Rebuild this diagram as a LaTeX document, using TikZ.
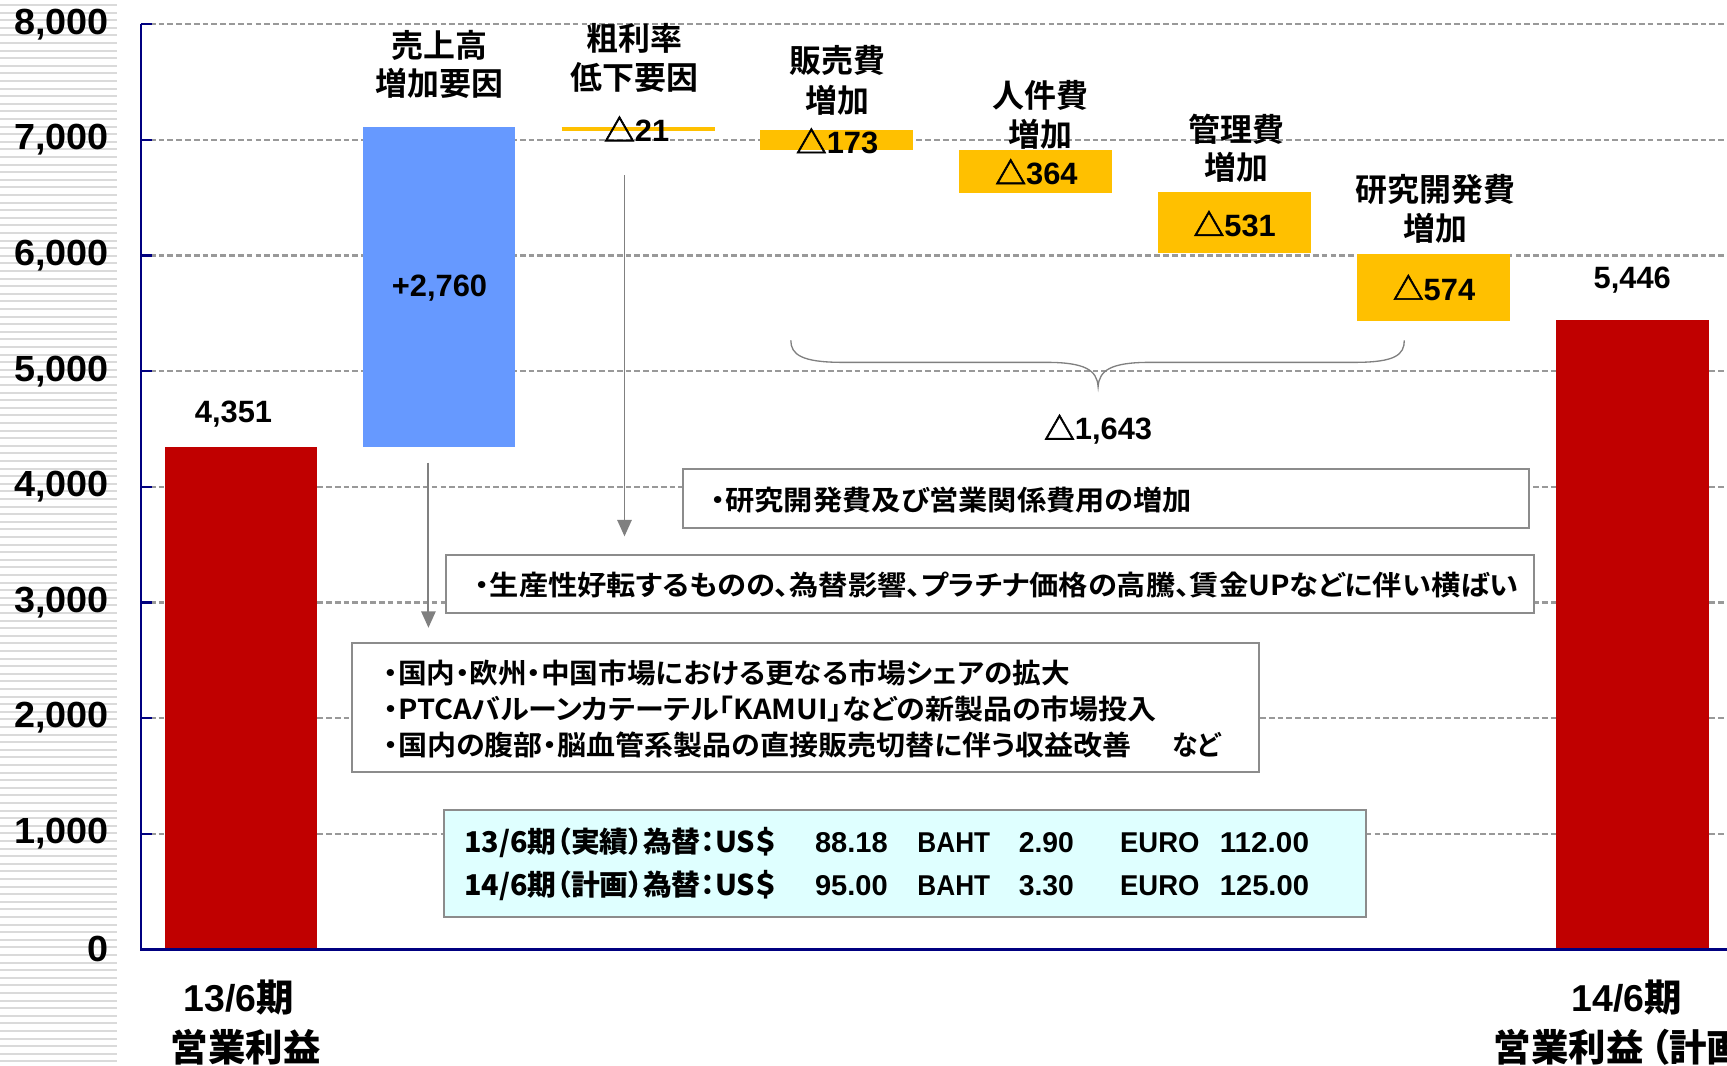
\documentclass[tikz,border=0pt]{standalone}
\usepackage{fontspec}
\usepackage{graphicx}
\usetikzlibrary{arrows.meta}
\setmainfont{Liberation Sans}
\newfontfamily\jp{Noto Sans CJK JP Bold}[RawFeature=+palt]
\newfontfamily\tri{Noto Sans CJK JP Black}[FakeBold=2]
\definecolor{barred}{HTML}{C00000}
\definecolor{barblue}{HTML}{6699FF}
\definecolor{barorange}{HTML}{FFC000}
\definecolor{axisblue}{HTML}{000080}
\definecolor{gridgray}{HTML}{999999}
\definecolor{boxgray}{HTML}{8C8C8C}
\definecolor{cyanfill}{HTML}{DFFFFF}
\definecolor{stripegray}{HTML}{DADADA}
\definecolor{arrgray}{HTML}{808080}
\newcommand\fw[2]{\resizebox{#1}{\height}{#2}}
\newcommand\axl[1]{\scalebox{1.04}[1]{#1}}
\newcommand\dlt{{\tri △}}
\begin{document}
\begin{tikzpicture}[x=0.5pt,y=-0.5pt,
  stripe/.style={draw=stripegray, line width=0.9pt},
  gridline/.style={draw=gridgray, line width=1pt, dash pattern=on 2.6pt off 1.4pt},
  axisline/.style={draw=axisblue, line width=1pt},
  axlab/.style={font=\fontsize{16.5}{16.5}\selectfont\bfseries, anchor=east, inner sep=0pt},
  val/.style={font=\fontsize{14}{14}\selectfont\bfseries, inner sep=0pt},
  head/.style={font=\jp\fontsize{14.5}{14.5}\selectfont, inner sep=0pt},
  boxframe/.style={draw=boxgray, line width=0.9pt, fill=white},
  infoframe/.style={draw=boxgray, line width=0.9pt, fill=cyanfill},
  boxtxt/.style={font=\jp\fontsize{12.5}{12.5}\selectfont, inner sep=0pt, anchor=west},
  infotxt/.style={font=\fontsize{13}{13}\selectfont\bfseries, inner sep=0pt},
  arr/.style={draw=arrgray, line width=0.9pt, -{Triangle[length=7.5pt,width=6.5pt]}},
  brace/.style={draw=arrgray, line width=0.6pt},
  bottomlab/.style={font=\fontsize{17}{17}\selectfont\bfseries, inner sep=0pt}]
\useasboundingbox (0,0) rectangle (1568,967);
\clip (0,0) rectangle (1568,967);
% left stripes
\foreach \k in {0,...,140} \draw[stripe] (0,{4.5+6.9*\k}) -- (106,{4.5+6.9*\k});
% gridlines
\foreach \v in {1,...,8} \draw[gridline] (128,{862-105*\v}) -- (1568,{862-105*\v});
% bars
\fill[barred] (150,406) rectangle (288,862);
\fill[barblue] (330,115) rectangle (468,406);
\draw[barorange, line width=1.5pt] (510,117) -- (649,117);
\fill[barorange] (690,118) rectangle (829,136);
\fill[barorange] (871,136) rectangle (1010,175);
\fill[barorange] (1051,174) rectangle (1190,230);
\fill[barorange] (1232,230.5) rectangle (1371,291);
\fill[barred] (1413,290.5) rectangle (1551.5,862);
% axes
\draw[axisline] (128,22) -- (128,862) -- (1568,862);
\foreach \v in {1,...,8} \draw[axisline] (128,{862-105*\v}) -- (138,{862-105*\v});
% axis labels
\node[axlab] (y0) at (99,862) {\axl{0}};
\node[axlab] (y1) at (99,757) {\axl{1,000}};
\node[axlab] (y2) at (99,652) {\axl{2,000}};
\node[axlab] (y3) at (99,547) {\axl{3,000}};
\node[axlab] (y4) at (99,442) {\axl{4,000}};
\node[axlab] (y5) at (99,337) {\axl{5,000}};
\node[axlab] (y6) at (99,232) {\axl{6,000}};
\node[axlab] (y7) at (99,127) {\axl{7,000}};
\node[axlab] (y8) at (99,22) {\axl{8,000}};
% boxes
\draw[boxframe] (620,426) rectangle (1388,479);
\draw[boxframe] (405,504) rectangle (1393,557);
\draw[boxframe] (320,584) rectangle (1143,701);
\draw[infoframe] (403,735) rectangle (1240,833);
% brace
\draw[brace] (718,309) .. controls (718,322) and (728,329) .. (765,329) -- (950,329)
  .. controls (985,329) and (996,336) .. (997,351)
  .. controls (998,336) and (1009,329) .. (1044,329) -- (1230,329)
  .. controls (1267,329) and (1275,322) .. (1275,309);
% arrows
\coordinate (a1s) at (567,159);
\coordinate (a1e) at (567,487);
\coordinate (a2s) at (389,420);
\coordinate (a2e) at (389,570);
\draw[arr] (a1s) -- (a1e);
\draw[arr] (a2s) -- (a2e);
% headers
\node[head] (h1a) at (399,41) {売上高};
\node[head] (h1b) at (399,76) {増加要因};
\node[head] (h2a) at (576,35) {粗利率};
\node[head] (h2b) at (576,70) {低下要因};
\node[head] (h3a) at (760,55) {販売費};
\node[head] (h3b) at (760,91) {増加};
\node[head] (h4a) at (945,87) {人件費};
\node[head] (h4b) at (945,122) {増加};
\node[head] (h5a) at (1123,117) {管理費};
\node[head] (h5b) at (1123,152) {増加};
\node[head] (h6a) at (1303,172) {研究開発費};
\node[head] (h6b) at (1303,207) {増加};
% values
\node[val] (v4351) at (212,376) {4,351};
\node[val] (v2760) at (399,262) {+2,760};
\node[val] (v21) at (578,117) {\dlt21};
\node[val] (v173) at (760,128) {\dlt173};
\node[val] (v364) at (941,156) {\dlt364};
\node[val] (v531) at (1121,203) {\dlt531};
\node[val] (v574) at (1302,261) {\dlt574};
\node[val] (v5446) at (1482,254) {5,446};
\node[val] (v1643) at (997,390) {\dlt1,643};
% box texts
\node[boxtxt] (tA) at (645,454) {\fw{218.5pt}{・研究開発費及び営業関係費用の増加}};
\node[boxtxt] (tB) at (431,531) {\fw{473.5pt}{・生産性好転するものの、為替影響、プラチナ価格の高騰、賃金UPなどに伴い横ばい}};
\node[boxtxt] (tC1) at (348,611) {\fw{311.5pt}{・国内・欧州・中国市場における更なる市場シェアの拡大}};
\node[boxtxt] (tC2) at (348,644) {\fw{351pt}{・PTCAバルーンカテーテル「KAMUI」などの新製品の市場投入}};
\node[boxtxt] (tC3) at (348,676) {\fw{339.5pt}{・国内の腹部・脳血管系製品の直接販売切替に伴う収益改善}};
\node[boxtxt] (tC4) at (1064,676) {\fw{22pt}{など}};
% info box texts
\node[infotxt, anchor=west] (d1a) at (421,765) {\fw{142pt}{{\jp 13/6期（実績）為替：US＄}}};
\node[infotxt] (d1b) at (773,765) {\fw{33pt}{88.18}};
\node[infotxt] (d1c) at (866,765) {\fw{33pt}{BAHT}};
\node[infotxt] (d1d) at (950,765) {\fw{25pt}{2.90}};
\node[infotxt] (d1e) at (1053,765) {\fw{36pt}{EURO}};
\node[infotxt] (d1f) at (1148,765) {\fw{40.5pt}{112.00}};
\node[infotxt, anchor=west] (d2a) at (421,804) {\fw{142pt}{{\jp 14/6期（計画）為替：US＄}}};
\node[infotxt] (d2b) at (773,804) {\fw{33pt}{95.00}};
\node[infotxt] (d2c) at (866,804) {\fw{33pt}{BAHT}};
\node[infotxt] (d2d) at (950,804) {\fw{25pt}{3.30}};
\node[infotxt] (d2e) at (1053,804) {\fw{36pt}{EURO}};
\node[infotxt] (d2f) at (1148,804) {\fw{40.5pt}{125.00}};
% bottom labels
\node[bottomlab] (l1a) at (217,906) {13/6{\jp 期}};
\node[bottomlab] (l1b) at (223,951) {\jp 営業利益};
\node[bottomlab] (l2a) at (1477,906) {14/6{\jp 期}};
\node[bottomlab, anchor=west] (l2b) at (1356,951) {\jp 営業利益\hspace{3pt}（計画）};
\end{tikzpicture}
\end{document}
